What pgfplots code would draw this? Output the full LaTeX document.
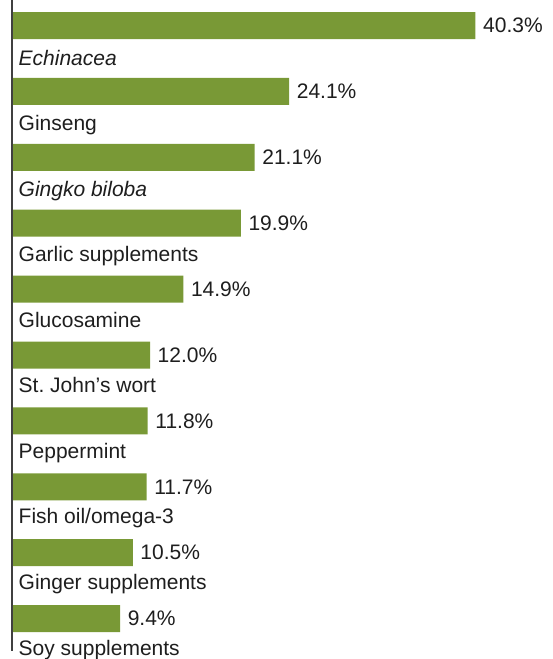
\documentclass[border=0pt]{standalone}
\usepackage{fontspec}
\setmainfont{Liberation Sans}
\usepackage{pgfplots}
\pgfplotsset{compat=1.18}
\definecolor{barg}{RGB}{121,153,54}
\definecolor{txt}{RGB}{30,30,30}
\frenchspacing
\begin{document}
\begin{tikzpicture}[font=\fontsize{21}{25}\selectfont]
\begin{axis}[
  scale only axis, width=553pt, height=659pt,
  xmin=-1.0435, xmax=47.043,
  ymin=0, ymax=659, y dir=reverse,
  hide axis, clip=false,
  /pgf/number format/assume math mode=true,
]
\addplot[xbar, bar width=27pt, fill=barg, draw=none,
  nodes near coords={\pgfmathprintnumber[fixed,fixed zerofill,precision=1]{\pgfplotspointmeta}\%},
  nodes near coords align={anchor=west},
  every node near coord/.append style={inner sep=0pt, xshift=7.5pt, text=txt, font=\fontsize{21}{25}\selectfont},
] coordinates {
  (40.3,25.5) (24.1,91.4) (21.1,157.3) (19.9,223.2) (14.9,289.1)
  (12.0,355.0) (11.8,420.9) (11.7,486.8) (10.5,552.7) (9.4,618.6)
};
\addplot[draw=none, mark=none,
  nodes near coords, point meta=explicit symbolic,
  nodes near coords align={anchor=base west},
  every node near coord/.append style={inner sep=0pt, xshift=6.5pt, yshift=0pt, text=txt, font=\fontsize{21}{25}\selectfont},
] coordinates {
  (0,65.0) [\textit{Echinacea}]
  (0,130.6) [Ginseng]
  (0,196.1) [\textit{Gingko biloba}]
  (0,261.7) [Garlic supplements]
  (0,327.2) [Glucosamine]
  (0,392.8) [St.\ John’s wort]
  (0,458.3) [Peppermint]
  (0,523.9) [Fish oil/omega-3]
  (0,589.4) [Ginger supplements]
  (0,655.0) [Soy supplements]
};
\draw[line width=1.8pt, color=black!75] (axis cs:0,0) -- (axis cs:0,651);
\end{axis}
\pgfresetboundingbox
\useasboundingbox (current axis.south west) rectangle (current axis.north east);
\end{tikzpicture}
\end{document}
